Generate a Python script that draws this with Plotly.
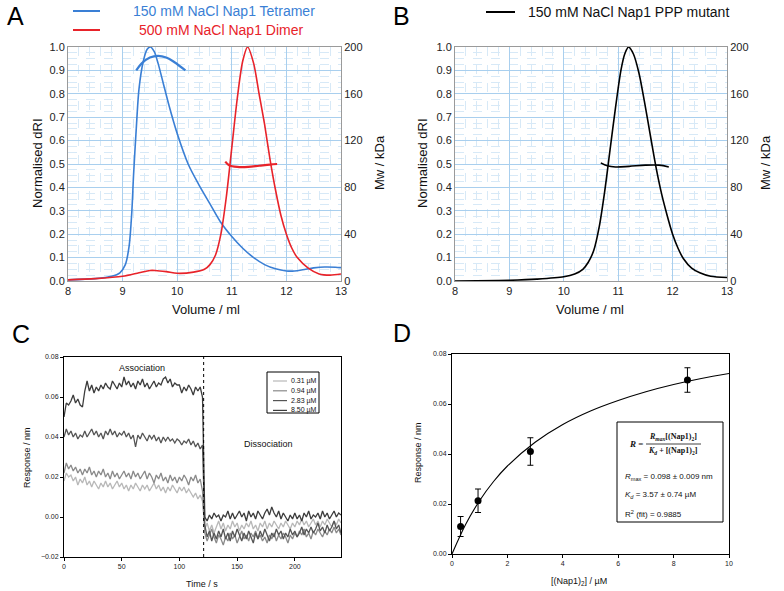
import plotly.graph_objects as go

W, H = 784, 591

# ---------------- Panel A data ----------------
a_blue_x = [8.0, 8.5, 8.8, 8.95, 9.05, 9.12, 9.17, 9.2, 9.25, 9.3, 9.38, 9.45, 9.51, 9.58, 9.65, 9.75,
            9.85, 10.0, 10.2, 10.4, 10.6, 10.8, 11.0, 11.2, 11.4, 11.6, 11.8, 12.0, 12.15, 12.3, 12.5,
            12.7, 12.9, 13.0]
a_blue_y = [0.005, 0.01, 0.02, 0.035, 0.07, 0.15, 0.3, 0.45, 0.65, 0.82, 0.94, 0.99, 1.0, 0.98, 0.93,
            0.84, 0.75, 0.63, 0.5, 0.41, 0.33, 0.25, 0.19, 0.14, 0.1, 0.07, 0.052, 0.043, 0.043, 0.048,
            0.056, 0.06, 0.059, 0.057]
a_blue_mw_x = [9.25, 9.35, 9.5, 9.65, 9.8, 9.95, 10.15]
a_blue_mw_y = [180, 186, 191, 192.5, 191, 187, 180]

a_red_x = [8.0, 8.5, 9.0, 9.3, 9.5, 9.6, 9.8, 10.0, 10.3, 10.5, 10.6, 10.7, 10.8, 10.9, 11.0, 11.1,
           11.2, 11.29, 11.4, 11.5, 11.6, 11.7, 11.8, 11.9, 12.0, 12.1, 12.2, 12.4, 12.6, 12.8, 13.0]
a_red_y = [0.005, 0.01, 0.02, 0.035, 0.045, 0.045, 0.04, 0.033, 0.038, 0.05, 0.07, 0.11, 0.2, 0.36,
           0.57, 0.78, 0.94, 1.0, 0.93, 0.8, 0.67, 0.52, 0.39, 0.28, 0.2, 0.14, 0.1, 0.055, 0.03,
           0.025, 0.03]
a_red_mw_x = [10.88, 10.95, 11.1, 11.3, 11.5, 11.7, 11.83]
a_red_mw_y = [102, 99, 97.5, 97.5, 98.5, 99.5, 100]

# ---------------- Panel B data ----------------
b_x = [8.0, 8.8, 9.0, 9.5, 10.0, 10.2, 10.35, 10.45, 10.55, 10.65, 10.75, 10.85, 10.95, 11.05, 11.12,
       11.19, 11.28, 11.38, 11.48, 11.6, 11.7, 11.8, 11.9, 12.0, 12.1, 12.2, 12.35, 12.5, 12.7, 13.0]
b_y = [0.0, 0.002, 0.003, 0.008, 0.018, 0.03, 0.05, 0.08, 0.13, 0.23, 0.38, 0.56, 0.74, 0.9, 0.97,
       1.0, 0.97, 0.89, 0.77, 0.61, 0.48, 0.37, 0.28, 0.2, 0.14, 0.095, 0.055, 0.035, 0.02, 0.015]
b_mw_x = [10.68, 10.8, 10.95, 11.2, 11.5, 11.75, 11.93]
b_mw_y = [101, 98.5, 97.5, 98, 99, 99, 97.5]

# ---------------- Panel C data ----------------
c_time = list(range(0, 242, 2))
c_labels = ["0.31 µM", "0.94 µM", "2.83 µM", "8.50 µM"]
c_colors = ["#b8b8b8", "#8a8a8a", "#555555", "#3c3c3c"]
c_031 = [0.018, 0.022, 0.020, 0.021, 0.018, 0.020, 0.016, 0.019, 0.017, 0.020, 0.016, 0.018, 0.015,
         0.018, 0.016, 0.014, 0.017, 0.015, 0.018, 0.015, 0.017, 0.014, 0.016, 0.018, 0.015, 0.017,
         0.014, 0.016, 0.013, 0.016, 0.014, 0.017, 0.015, 0.013, 0.016, 0.014, 0.016, 0.013, 0.015,
         0.017, 0.014, 0.016, 0.013, 0.015, 0.012, 0.015, 0.013, 0.016, 0.014, 0.012, 0.015, 0.013,
         0.015, 0.012, 0.014, 0.012, 0.010, 0.012, 0.009, 0.011, 0.008,
         -0.006, -0.003, -0.007, -0.004, -0.008, -0.005, -0.002, -0.006, -0.003, -0.007, -0.004,
         -0.006, -0.002, -0.005, -0.003, -0.007, -0.004, -0.006, -0.003, -0.005, -0.002, -0.006,
         -0.004, -0.007, -0.003, -0.005, -0.002, -0.006, -0.003, -0.005, -0.002, -0.004, -0.006,
         -0.003, -0.005, -0.002, -0.004, -0.006, -0.003, -0.005, -0.002, -0.004, -0.001, -0.004,
         -0.002, -0.005, -0.003, -0.001, -0.004, -0.002, -0.005, -0.002, -0.004, -0.001, -0.003,
         -0.005, -0.002, -0.004, -0.001, -0.003]
c_094 = [0.022, 0.027, 0.024, 0.026, 0.023, 0.025, 0.022, 0.024, 0.021, 0.024, 0.022, 0.025, 0.021,
         0.023, 0.020, 0.023, 0.021, 0.024, 0.020, 0.022, 0.019, 0.023, 0.020, 0.022, 0.019, 0.021,
         0.023, 0.020, 0.022, 0.019, 0.023, 0.020, 0.022, 0.019, 0.021, 0.023, 0.019, 0.022, 0.020,
         0.017, 0.021, 0.019, 0.022, 0.018, 0.020, 0.017, 0.021, 0.018, 0.020, 0.017, 0.020, 0.018,
         0.021, 0.019, 0.016, 0.020, 0.018, 0.021, 0.017, 0.019, 0.013,
         -0.008, -0.012, -0.009, -0.006, -0.010, -0.013, -0.009, -0.011, -0.014, -0.010, -0.012,
         -0.008, -0.011, -0.009, -0.013, -0.010, -0.007, -0.011, -0.009, -0.012, -0.008, -0.010,
         -0.007, -0.011, -0.009, -0.012, -0.010, -0.013, -0.009, -0.011, -0.008, -0.012, -0.009,
         -0.011, -0.008, -0.010, -0.013, -0.009, -0.011, -0.008, -0.010, -0.007, -0.009, -0.006,
         -0.010, -0.008, -0.011, -0.007, -0.009, -0.006, -0.008, -0.010, -0.007, -0.009, -0.006,
         -0.008, -0.005, -0.008, -0.006, -0.009]
c_283 = [0.040, 0.044, 0.041, 0.043, 0.040, 0.042, 0.039, 0.041, 0.040, 0.043, 0.040, 0.042, 0.044,
         0.041, 0.043, 0.040, 0.042, 0.039, 0.043, 0.041, 0.044, 0.041, 0.043, 0.040, 0.042, 0.041,
         0.043, 0.040, 0.042, 0.039, 0.041, 0.035, 0.041, 0.039, 0.042, 0.040, 0.038, 0.041, 0.039,
         0.041, 0.038, 0.040, 0.037, 0.040, 0.038, 0.040, 0.038, 0.039, 0.037, 0.039, 0.038, 0.036,
         0.038, 0.037, 0.039, 0.036, 0.038, 0.035, 0.037, 0.034, 0.036,
         -0.004, -0.010, -0.007, -0.012, -0.008, -0.011, -0.007, -0.010, -0.006, -0.011, -0.008,
         -0.012, -0.007, -0.010, -0.006, -0.009, -0.012, -0.008, -0.011, -0.007, -0.010, -0.013,
         -0.008, -0.011, -0.007, -0.010, -0.006, -0.009, -0.012, -0.008, -0.010, -0.006, -0.009,
         -0.007, -0.011, -0.008, -0.010, -0.006, -0.009, -0.007, -0.010, -0.008, -0.005, -0.009,
         -0.006, -0.008, -0.005, -0.008, -0.006, -0.003, -0.007, -0.005, -0.008, -0.004, -0.007,
         -0.005, -0.002, -0.006, -0.004, -0.008]
c_850 = [0.050, 0.057, 0.056, 0.058, 0.061, 0.057, 0.059, 0.056, 0.055, 0.063, 0.068, 0.063, 0.066,
         0.062, 0.065, 0.063, 0.066, 0.064, 0.067, 0.065, 0.064, 0.068, 0.066, 0.064, 0.067, 0.065,
         0.070, 0.066, 0.068, 0.065, 0.067, 0.064, 0.068, 0.066, 0.069, 0.065, 0.067, 0.064, 0.066,
         0.068, 0.065, 0.067, 0.066, 0.069, 0.070, 0.067, 0.069, 0.065, 0.067, 0.066, 0.066, 0.062,
         0.065, 0.063, 0.066, 0.064, 0.061, 0.065, 0.063, 0.065, 0.060,
         0.000, -0.002, 0.001, -0.001, 0.002, 0.000, 0.001, -0.002, 0.001, 0.000, 0.003, -0.001,
         0.002, -0.001, 0.001, 0.003, 0.000, 0.002, -0.002, 0.003, 0.000, 0.002, -0.001, 0.003,
         0.001, -0.001, 0.002, 0.004, 0.001, 0.005, 0.002, 0.000, 0.003, -0.001, 0.002, 0.000,
         -0.002, 0.001, -0.001, 0.002, -0.001, 0.001, -0.002, 0.002, 0.000, 0.003, -0.001, 0.001,
         0.000, 0.002, -0.001, 0.003, 0.000, 0.002, -0.001, 0.001, 0.003, 0.000, 0.002, 0.001]
c_series = [c_031, c_094, c_283, c_850]

# ---------------- Panel D data ----------------
d_conc = [0.31, 0.94, 2.83, 8.50]
d_resp = [0.011, 0.0213, 0.041, 0.0696]
d_err = [0.004, 0.0047, 0.0055, 0.0049]
d_fit_x = [0, 0.5, 1, 1.5, 2, 3, 4, 5, 6, 7, 8, 9, 10]
d_fit_y = [0.0, 0.0120, 0.0214, 0.0290, 0.0352, 0.0447, 0.0518, 0.0572, 0.0614, 0.0649, 0.0678,
           0.0702, 0.0722]


def P(x, y):
    return x / W, 1 - y / H


fig = go.Figure()
BLUE = "#3a7fd5"
RED = "#e8232a"

fig.add_trace(go.Scatter(x=a_blue_x, y=a_blue_y, mode="lines", line=dict(color=BLUE, width=1.6, shape="spline", smoothing=0.8), xaxis="x", yaxis="y"))
fig.add_trace(go.Scatter(x=a_red_x, y=a_red_y, mode="lines", line=dict(color=RED, width=1.6, shape="spline", smoothing=0.8), xaxis="x", yaxis="y"))
fig.add_trace(go.Scatter(x=a_blue_mw_x, y=a_blue_mw_y, mode="lines", line=dict(color=BLUE, width=2.2, shape="spline"), xaxis="x", yaxis="y2"))
fig.add_trace(go.Scatter(x=a_red_mw_x, y=a_red_mw_y, mode="lines", line=dict(color=RED, width=2.2, shape="spline"), xaxis="x", yaxis="y2"))

fig.add_trace(go.Scatter(x=b_x, y=b_y, mode="lines", line=dict(color="black", width=1.6, shape="spline", smoothing=0.8), xaxis="x2", yaxis="y3"))
fig.add_trace(go.Scatter(x=b_mw_x, y=b_mw_y, mode="lines", line=dict(color="black", width=1.6, shape="spline"), xaxis="x2", yaxis="y4"))

for ys, col in zip(c_series, c_colors):
    fig.add_trace(go.Scatter(x=c_time, y=ys, mode="lines", line=dict(color=col, width=1.3), xaxis="x3", yaxis="y5"))

fig.add_trace(go.Scatter(x=d_fit_x, y=d_fit_y, mode="lines", line=dict(color="black", width=1.1, shape="spline"), xaxis="x4", yaxis="y6"))
fig.add_trace(go.Scatter(x=d_conc, y=d_resp, mode="markers", marker=dict(color="black", size=7),
                         error_y=dict(type="data", array=d_err, color="black", thickness=1, width=3),
                         xaxis="x4", yaxis="y6"))

# ---------------- axes ----------------
gridA = dict(showgrid=True, gridcolor="#a9cfee", gridwidth=1, zeroline=False, automargin=False,
             showline=True, linecolor="#9a9a9a", linewidth=1, mirror=True,
             tickfont=dict(family="Liberation Sans, Arial", size=11, color="#222"), ticks="")
xa = dict(gridA, range=[8, 13], dtick=1, tick0=8,
          minor=dict(dtick=0.2, showgrid=True, gridcolor="#d7e9f7", griddash="dash", gridwidth=1))
ya = dict(gridA, range=[0, 1.0], dtick=0.1, tickformat=".1f",
          minor=dict(dtick=0.025, showgrid=True, gridcolor="#d7e9f7", griddash="dash", gridwidth=1))
y2a = dict(range=[0, 200], dtick=40, showgrid=False, zeroline=False, side="right", automargin=False,
           showline=True, linecolor="#9a9a9a", ticks="",
           tickfont=dict(family="Liberation Sans, Arial", size=11, color="#222"))

boxax = dict(showline=True, mirror=True, linecolor="black", linewidth=1, ticks="outside", ticklen=3,
             tickcolor="black", showgrid=False, zeroline=False, automargin=False,
             tickfont=dict(family="Liberation Sans, Arial", size=7, color="#222"))

xA0, xA1 = 68 / W, 341 / W
xB0, xB1 = 455 / W, 727 / W
yT0, yT1 = 1 - 281 / H, 1 - 47 / H

fig.update_layout(
    width=W, height=H, margin=dict(l=0, r=0, t=0, b=0, autoexpand=False),
    paper_bgcolor="white", plot_bgcolor="white", showlegend=False,
    font=dict(family="Liberation Sans, Arial"),
    xaxis=dict(xa, domain=[xA0, xA1], anchor="y"),
    yaxis=dict(ya, domain=[yT0, yT1], anchor="x"),
    yaxis2=dict(y2a, overlaying="y", anchor="x"),
    xaxis2=dict(xa, domain=[xB0, xB1], anchor="y3"),
    yaxis3=dict(ya, domain=[yT0, yT1], anchor="x2"),
    yaxis4=dict(y2a, overlaying="y3", anchor="x2"),
    xaxis3=dict(boxax, domain=[64 / W, 341 / W], range=[0, 240], dtick=50, anchor="y5"),
    yaxis5=dict(boxax, domain=[1 - 557 / H, 1 - 357 / H], range=[-0.02, 0.08], dtick=0.02,
                tickformat=".2f", anchor="x3"),
    xaxis4=dict(boxax, domain=[452 / W, 729 / W], range=[0, 10], dtick=2, anchor="y6"),
    yaxis6=dict(boxax, domain=[1 - 554 / H, 1 - 354 / H], range=[0, 0.08], dtick=0.02,
                tickformat=".2f", anchor="x4"),
)

ann = []
shapes = []


def text(x, y, s, size, color="#111", angle=0, xanchor="center", family="Liberation Sans, Arial"):
    px, py = P(x, y)
    ann.append(dict(x=px, y=py, xref="paper", yref="paper", text=s, showarrow=False,
                    textangle=angle, xanchor=xanchor, yanchor="middle",
                    font=dict(size=size, color=color, family=family)))


def seg(x0, y0, x1, y1, color, width=1, dash="solid"):
    a0, b0 = P(x0, y0)
    a1, b1 = P(x1, y1)
    shapes.append(dict(type="line", xref="paper", yref="paper", x0=a0, y0=b0, x1=a1, y1=b1,
                       line=dict(color=color, width=width, dash=dash)))


# panel letters
text(15, 16, "A", 25, "black")
text(401, 16, "B", 25, "black")
text(21, 334, "C", 25, "black")
text(402, 333, "D", 25, "black")

# panel A / B titles
text(37, 163, "Normalised dRI", 13, angle=-90)
text(379, 163, "Mw / kDa", 13, angle=-90)
text(206, 309, "Volume / ml", 13)
text(422, 163, "Normalised dRI", 13, angle=-90)
text(765, 163, "Mw / kDa", 13, angle=-90)
text(590, 309, "Volume / ml", 13)

# legends A / B
seg(73, 11, 100, 11, BLUE, 2)
text(131, 11, "150 mM NaCl Nap1 Tetramer", 14, BLUE, xanchor="left")
seg(73, 30, 100, 30, RED, 2)
text(137, 30, "500 mM NaCl Nap1 Dimer", 14, RED, xanchor="left")
seg(486, 12, 515, 12, "black", 2)
text(526, 12, "150 mM NaCl Nap1 PPP mutant", 14, "#111", xanchor="left")

# panel C
text(27, 457, "Response / nm", 9, angle=-90)
text(202, 584, "Time / s", 9)
text(142, 368, "Association", 9)
text(268, 444, "Dissociation", 9)
shapes.append(dict(type="line", xref="x3", yref="y5", x0=121, x1=121, y0=-0.02, y1=0.08,
                   line=dict(color="black", width=1, dash="dot")))
a0, b0 = P(267, 372)
a1, b1 = P(319, 413)
shapes.append(dict(type="rect", xref="paper", yref="paper", x0=a0, y0=b1, x1=a1, y1=b0,
                   line=dict(color="black", width=1), fillcolor="white", layer="above"))
for i, (lab, col) in enumerate(zip(c_labels, c_colors)):
    yy = 381 + i * 9.8
    seg(273, yy, 287, yy, col, 1.2)
    text(289, yy, lab, 7, xanchor="left")

# panel D
text(418, 453, "Response / nm", 9, angle=-90)
text(579, 581, "[(Nap1)<sub>2</sub>] / µM", 9)
a0, b0 = P(617, 422)
a1, b1 = P(723, 522)
shapes.append(dict(type="rect", xref="paper", yref="paper", x0=a0, y0=b1, x1=a1, y1=b0,
                   line=dict(color="black", width=1), fillcolor="white", layer="above"))
SERIF = "Liberation Serif, Times New Roman"
text(636, 444, "<b><i>R</i></b> =", 9, "#111", xanchor="center", family=SERIF)
text(673, 437, "<b><i>R<sub>max</sub></i>[(Nap1)<sub>2</sub>]</b>", 8, "#111", family=SERIF)
seg(646, 444, 701, 444, "#111", 0.8)
text(673, 451, "<b><i>K<sub>d</sub></i> + [(Nap1)<sub>2</sub>]</b>", 8, "#111", family=SERIF)
text(623, 477, "<i>R</i><sub>max</sub> = 0.098 ± 0.009 nm", 8, xanchor="left")
text(623, 495, "<i>K<sub>d</sub></i> = 3.57 ± 0.74 µM", 8, xanchor="left")
text(623, 514, "R<sup>2</sup> (fit) = 0.9885", 8, xanchor="left")

fig.update_layout(annotations=ann, shapes=shapes)
fig.write_html("out.html", config={"displayModeBar": False},
               post_script="document.body.style.margin='0px';document.body.style.overflow='hidden';")
